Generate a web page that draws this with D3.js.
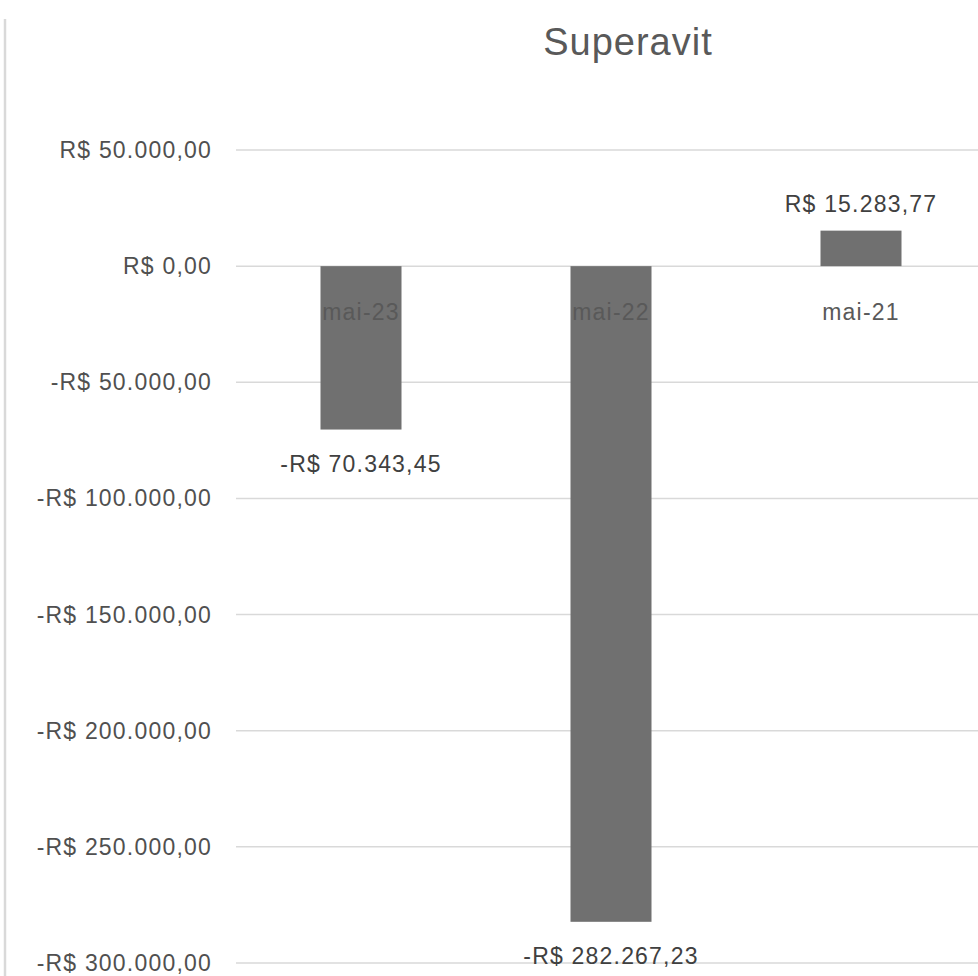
<!DOCTYPE html>
<html lang="pt">
<head>
    <meta charset="utf-8">
    <title>Superavit</title>
    <script type="text/javascript" src="https://d3js.org/d3.v7.min.js"></script>
    <style>
        body { margin: 0; background: #fff; }
        .title { font-family: "Liberation Sans", Arial, sans-serif; font-size: 38px; fill: #595959; letter-spacing: 1px; }
        .ticklabel { font-family: "Liberation Sans", Arial, sans-serif; font-size: 23px; fill: #505050; letter-spacing: 1.2px; }
        .catlabel { font-family: "Liberation Sans", Arial, sans-serif; font-size: 23px; fill: #595959; letter-spacing: 1.2px; }
        .vallabel { font-family: "Liberation Sans", Arial, sans-serif; font-size: 23px; fill: #404040; letter-spacing: 1.2px; }
        .grid { stroke: #d9d9d9; stroke-width: 1.5; }
        .bar { fill: #707070; }
    </style>
</head>
<body>
<div id="container"></div>
<script type="text/javascript">
    const categories = ["mai-23", "mai-22", "mai-21"];
    const values = [-70343.45, -282267.23, 15283.77];
    const tickValues = [50000, 0, -50000, -100000, -150000, -200000, -250000, -300000];
    const chartTitle = "Superavit";

    const w = 978;
    const h = 976;

    const ptBR = d3.formatLocale({
        decimal: ",",
        thousands: ".",
        grouping: [3],
        currency: ["R$ ", ""]
    });
    const fmt = ptBR.format("$,.2f");
    const money = function (v) {
        return v < 0 ? "-" + fmt(-v) : fmt(v);
    };

    const svg = d3.select("div#container").append("svg")
        .attr("width", w)
        .attr("height", h);

    // left edge of the chart frame
    svg.append("line")
        .attr("x1", 5).attr("x2", 5)
        .attr("y1", 19).attr("y2", h)
        .attr("stroke", "#d9d9d9")
        .attr("stroke-width", 2.5);

    const x = d3.scaleBand()
        .domain(categories)
        .range([236, 986])
        .paddingInner(0.676)
        .paddingOuter(0.338);

    const y = d3.scaleLinear()
        .domain([50000, -300000])
        .range([150, 963]);

    // gridlines
    svg.append("g").selectAll("line")
        .data(tickValues)
        .enter()
        .append("line")
        .attr("class", "grid")
        .attr("x1", 236)
        .attr("x2", w)
        .attr("y1", d => y(d))
        .attr("y2", d => y(d));

    // y tick labels
    svg.append("g").selectAll("text")
        .data(tickValues)
        .enter()
        .append("text")
        .attr("class", "ticklabel")
        .attr("x", 212)
        .attr("y", d => y(d))
        .attr("dy", "0.35em")
        .attr("text-anchor", "end")
        .text(d => money(d));

    // bars
    svg.append("g").selectAll("rect")
        .data(values)
        .enter()
        .append("rect")
        .attr("class", "bar")
        .attr("x", (d, i) => x(categories[i]))
        .attr("width", x.bandwidth())
        .attr("y", d => y(Math.max(0, d)))
        .attr("height", d => Math.abs(y(d) - y(0)));

    // category labels under the zero line
    svg.append("g").selectAll("text")
        .data(categories)
        .enter()
        .append("text")
        .attr("class", "catlabel")
        .attr("x", d => x(d) + x.bandwidth() / 2)
        .attr("y", y(0) + 46)
        .attr("dy", "0.35em")
        .attr("text-anchor", "middle")
        .text(d => d);

    // value labels
    svg.append("g").selectAll("text")
        .data(values)
        .enter()
        .append("text")
        .attr("class", "vallabel")
        .attr("x", (d, i) => x(categories[i]) + x.bandwidth() / 2)
        .attr("y", d => d >= 0 ? y(d) - 27 : y(d) + 34)
        .attr("dy", "0.35em")
        .attr("text-anchor", "middle")
        .text(d => money(d));

    svg.append("text")
        .attr("class", "title")
        .attr("x", 628)
        .attr("y", 42)
        .attr("dy", "0.35em")
        .attr("text-anchor", "middle")
        .text(chartTitle);
</script>
</body>
</html>
